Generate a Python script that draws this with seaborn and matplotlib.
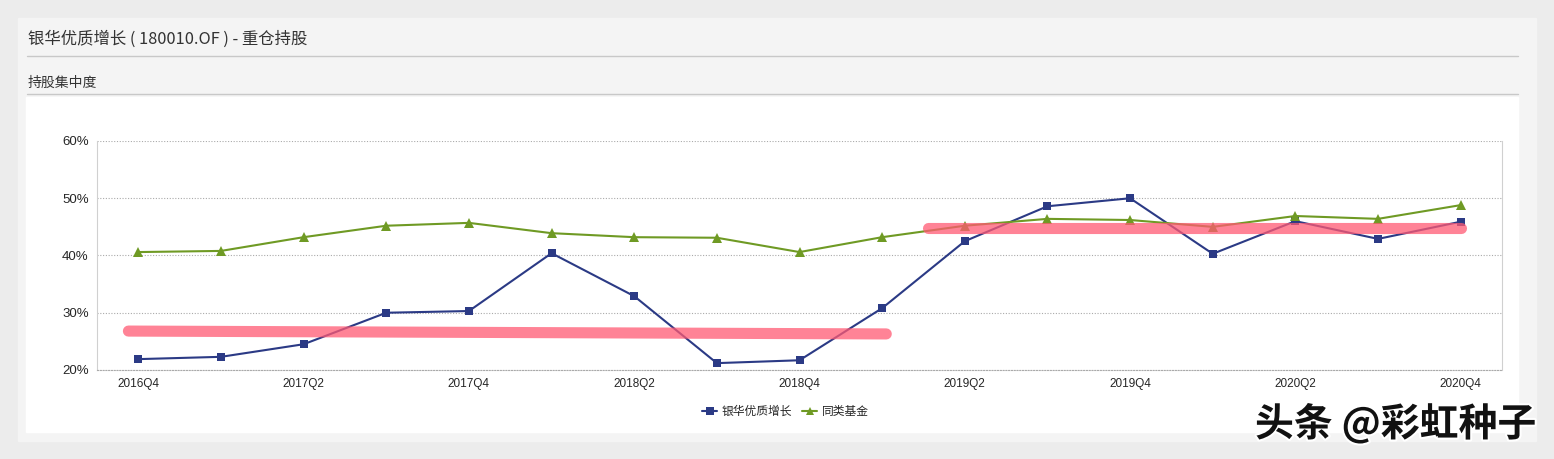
import pandas as pd
import seaborn as sns
import matplotlib.pyplot as plt
import matplotlib.patheffects as pe
from matplotlib.patches import Rectangle

quarters = ["2016Q4", "2017Q1", "2017Q2", "2017Q3", "2017Q4", "2018Q1", "2018Q2", "2018Q3",
            "2018Q4", "2019Q1", "2019Q2", "2019Q3", "2019Q4", "2020Q1", "2020Q2", "2020Q3", "2020Q4"]
fund = [21.9, 22.3, 24.5, 30.0, 30.3, 40.4, 32.9, 21.2, 21.7, 30.8, 42.5, 48.6, 50.0, 40.3, 46.0, 42.9, 45.9]
peers = [40.6, 40.8, 43.2, 45.2, 45.7, 43.9, 43.2, 43.1, 40.6, 43.2, 45.2, 46.4, 46.2, 45.0, 46.9, 46.4, 48.8]
# hand-drawn highlight bars: (start idx, end idx, start val, end val)
marks = [(-0.12, 9.05, 26.8, 26.3), (9.55, 16.0, 44.8, 44.8)]

sns.set_style("white")
plt.rcParams['font.family'] = ['Noto Sans CJK SC', 'DejaVu Sans']
num_font = ['Liberation Sans', 'Noto Sans CJK SC']

df = pd.DataFrame({"idx": range(len(quarters)), "fund": fund, "peers": peers})

fig = plt.figure(figsize=(15.54, 4.59), dpi=100)
fig.patch.set_facecolor("#ececec")
W, H = 1554, 459
def box(x0, y0, x1, y1, c):
    fig.patches.append(Rectangle((x0 / W, 1 - y1 / H), (x1 - x0) / W, (y1 - y0) / H,
                                 transform=fig.transFigure, color=c, zorder=-2))
box(18, 18, 1536, 441, "#f4f4f4")
box(26, 97, 1518, 432, "#ffffff")
fig.add_artist(plt.Line2D([27 / W, 1518 / W], [1 - 56 / H] * 2, color="#c8c8c8", lw=1))
fig.add_artist(plt.Line2D([27 / W, 1518 / W], [1 - 94 / H] * 2, color="#c8c8c8", lw=1))
fig.text(28 / W, 1 - 39 / H, "银华优质增长 ( 180010.OF ) - 重仓持股", fontsize=11.8, color="#333333", va="center")
fig.text(28 / W, 1 - 83 / H, "持股集中度", fontsize=10, color="#333333", va="center")

ax = fig.add_axes([97 / W, 89 / H, 1405 / W, 229 / H])
ax.set_zorder(3)
ax.set_facecolor("white")
sns.lineplot(data=df, x="idx", y="fund", ax=ax, color="#2b3a85", marker="s", markersize=6,
             markeredgewidth=0, lw=1.5, label="银华优质增长")
sns.lineplot(data=df, x="idx", y="peers", ax=ax, color="#6f9a24", marker="^", markersize=6.5,
             markeredgewidth=0, lw=1.5, label="同类基金")
for x0, x1, y0, y1 in marks:
    ax.plot([x0, x1], [y0, y1], color="#ff5a73", lw=8, alpha=0.75, solid_capstyle="round", zorder=5)

ax.set_xlim(-0.5, 16.5)
ax.set_ylim(20, 60)
ax.set_yticks([20, 30, 40, 50, 60])
ax.set_yticklabels([f"{v}%" for v in [20, 30, 40, 50, 60]], family=num_font, fontsize=9.5)
ax.set_xticks(df["idx"])
ax.set_xticklabels([q if i % 2 == 0 else "" for i, q in enumerate(quarters)], family=num_font, fontsize=8.5)
ax.tick_params(axis="x", length=4, color="#cccccc", pad=2)
ax.tick_params(axis="y", length=0, pad=6)
ax.grid(axis="y", color="#aaaaaa", linestyle=(0, (1, 1.5)), lw=0.8)
for s in ["left", "right"]:
    ax.spines[s].set_color("#d0d0d0")
    ax.spines[s].set_linewidth(0.8)
ax.spines["top"].set_visible(False)
ax.spines["bottom"].set_color("#aaaaaa")
ax.spines["bottom"].set_linestyle((0, (1, 1.5)))
ax.set_xlabel("")
ax.set_ylabel("")
leg = ax.legend(loc="upper center", bbox_to_anchor=(0.49, -0.105), ncol=2, frameon=False, fontsize=8.5,
                handlelength=1.3, columnspacing=0.8, handletextpad=0.4, markerscale=0.85)

fig.text(1255 / W, 1 - 424 / H, "头条 @彩虹种子", fontsize=28, color="#111111", va="center",
         fontweight="bold", zorder=10,
         path_effects=[pe.withStroke(linewidth=3, foreground="white")])

fig.savefig("out.png", dpi=100, facecolor=fig.get_facecolor())
